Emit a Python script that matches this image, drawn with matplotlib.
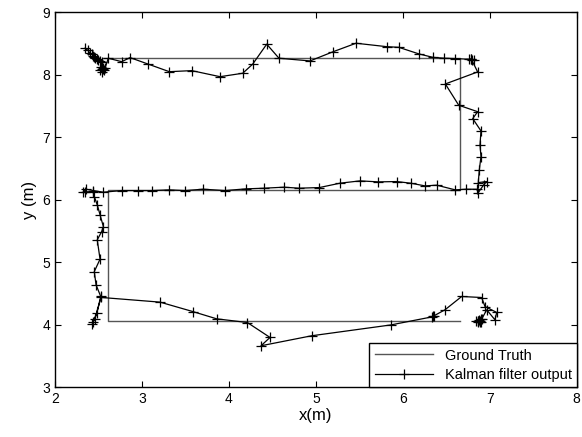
import numpy as np
import matplotlib
matplotlib.use("Agg")
import matplotlib.pyplot as plt

plt.rcParams['font.family'] = ['Liberation Sans', 'DejaVu Sans']

# ground truth path (m)
truth_x = [2.55, 6.66, 6.66, 2.61, 2.61, 6.66]
truth_y = [8.275, 8.275, 6.155, 6.155, 4.07, 4.07]

# Kalman filter estimates (m)
kf_x = [2.345, 2.38, 2.402, 2.42, 2.44, 2.45, 2.46, 2.48, 2.498, 2.52,
        2.537, 2.556, 2.518, 2.537, 2.55, 2.53, 2.56, 2.54, 2.575, 2.613,
        2.767, 2.863, 3.073, 3.315, 3.572, 3.898, 4.159, 4.273, 4.435, 4.576,
        4.933, 5.2, 5.462, 5.815, 5.953, 6.186, 6.344, 6.474, 6.604, 6.765,
        6.80, 6.78, 6.82, 6.79, 6.861, 6.489, 6.643, 6.861, 6.804, 6.899,
        6.888, 6.899, 6.88, 6.868, 6.965, 6.93, 6.868, 6.85, 6.727, 6.604,
        6.39, 6.255, 6.09, 5.93, 5.718, 5.508, 5.278, 5.04, 4.806, 4.634,
        4.404, 4.193, 3.955, 3.706, 3.495, 3.315, 3.112, 2.951, 2.767, 2.556,
        2.44, 2.36, 2.325, 2.345, 2.44, 2.452, 2.486, 2.518, 2.556, 2.537,
        2.486, 2.518, 2.452, 2.472, 2.526, 2.48, 2.44, 2.43, 2.46, 2.53,
        3.208, 3.583, 3.859, 4.212, 4.473, 4.369, 4.952, 5.861, 6.34, 6.36,
        6.35, 6.485, 6.677, 6.907, 6.945, 7.08, 7.06, 6.965, 6.91, 6.888,
        6.86, 6.9, 6.87, 6.89, 6.84, 6.88, 6.9, 6.87]
kf_y = [8.425, 8.39, 8.345, 8.33, 8.306, 8.29, 8.265, 8.25, 8.238, 8.22,
        8.21, 8.105, 8.078, 8.05, 8.09, 8.12, 8.07, 8.1, 8.105, 8.265,
        8.21, 8.275, 8.17, 8.05, 8.067, 7.97, 8.025, 8.17, 8.49, 8.265,
        8.222, 8.37, 8.505, 8.45, 8.44, 8.334, 8.28, 8.265, 8.26, 8.249,
        8.24, 8.25, 8.23, 8.245, 8.046, 7.854, 7.514, 7.41, 7.30, 7.103,
        6.879, 6.692, 6.48, 6.277, 6.293, 6.24, 6.117, 6.17, 6.171, 6.16,
        6.235, 6.224, 6.267, 6.293, 6.288, 6.304, 6.267, 6.197, 6.187, 6.203,
        6.187, 6.176, 6.149, 6.171, 6.149, 6.16, 6.149, 6.149, 6.149, 6.123,
        6.149, 6.17, 6.13, 6.133, 6.12, 6.053, 5.92, 5.76, 5.574, 5.494,
        5.361, 5.052, 4.854, 4.642, 4.455, 4.19, 4.055, 4.02, 4.10, 4.44,
        4.365, 4.215, 4.098, 4.039, 3.80, 3.667, 3.827, 4.0, 4.13, 4.15,
        4.14, 4.242, 4.455, 4.439, 4.295, 4.2, 4.082, 4.242, 4.10, 4.07,
        4.05, 4.09, 4.06, 4.04, 4.07, 4.08, 4.05, 4.07]

fig = plt.figure(figsize=(5.82, 4.37), dpi=100)
ax = fig.add_axes([0.0945, 0.1133, 0.8964, 0.8586])

ax.plot(truth_x, truth_y, color='#555555', lw=1.0, label='Ground Truth')
ax.plot(kf_x, kf_y, color='black', lw=0.9, marker='+', markersize=7.5,
        markeredgewidth=0.9, label='Kalman filter output')

ax.set_xlim(2, 8)
ax.set_ylim(3, 9)
ax.set_xticks(range(2, 9))
ax.set_yticks(range(3, 10))
ax.tick_params(direction='in', top=True, right=True, labelsize=10, length=4)
for s in ax.spines.values():
    s.set_linewidth(1.0)

ax.set_xlabel('x(m)', fontsize=12, labelpad=1)
ax.set_ylabel('y (m)', fontsize=12, labelpad=4)

leg = ax.legend(loc='lower right', fontsize=10.5, fancybox=False, framealpha=1,
                edgecolor='black', borderaxespad=0, handlelength=4.0,
                labelspacing=0.4, borderpad=0.35)
leg.get_frame().set_linewidth(1.0)

fig.savefig('out.png', dpi=100)
